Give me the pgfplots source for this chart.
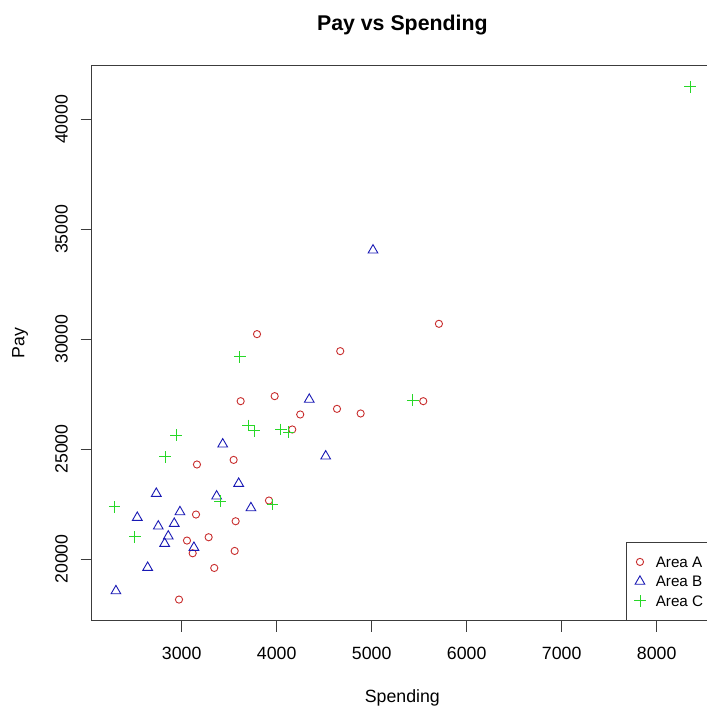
\documentclass[border=0pt]{standalone}
\usepackage{fontspec}
\setmainfont{Liberation Sans}
\usepackage{pgfplots}
\pgfplotsset{compat=1.18}
\definecolor{cA}{RGB}{200,45,45}
\definecolor{cB}{RGB}{25,25,180}
\definecolor{cC}{RGB}{40,215,40}
\definecolor{frame}{RGB}{60,60,60}
\begin{document}
\begin{tikzpicture}
\useasboundingbox (0,0) rectangle (707bp,707bp);
\clip (0,0) rectangle (707bp,707bp);
\begin{axis}[
  at={(91.7bp,86.5bp)}, anchor=south west,
  scale only axis, width=621.3bp, height=554.8bp,
  xmin=2053, xmax=8593, ymin=17200, ymax=42440,
  axis line style={frame, line width=0.9bp},
  xtick={3000,4000,5000,6000,7000,8000},
  ytick={20000,25000,30000,35000,40000},
  xtick pos=bottom, ytick pos=left,
  tick align=outside, major tick length=11bp,
  every tick/.style={frame, line width=0.9bp},
  minor tick num=0,
  scaled ticks=false,
  /pgf/number format/assume math mode=true,
  /pgf/number format/1000 sep={},
  xticklabel style={anchor=base, inner sep=0pt, font=\fontsize{17.8}{20}\selectfont},
  yticklabel style={rotate=90, anchor=base, inner sep=0pt, font=\fontsize{17.8}{20}\selectfont},
  xticklabel shift=28bp, yticklabel shift=13.2bp,
  title={Pay vs Spending},
  title style={at={(axis description cs:0.5,1.0631)}, anchor=base, yshift=-6pt, inner sep=0pt, font=\bfseries\fontsize{21.4}{24}\selectfont},
  xlabel={Spending},
  xlabel style={at={(axis description cs:0.5,-0.1487)}, anchor=base, inner sep=0pt, font=\fontsize{17.8}{20}\selectfont},
  ylabel={Pay},
  ylabel style={at={(axis description cs:-0.1083,0.5)}, anchor=base, inner sep=0pt, font=\fontsize{17.8}{20}\selectfont},
  legend style={at={(axis description cs:0.8595,0.1420)}, anchor=north west,
    draw=frame, line width=0.9bp, inner xsep=8bp, inner ysep=10bp,
    column sep=10bp, row sep=0pt, font=\fontsize{15.3}{18}\selectfont,
    nodes={inner sep=0pt, text height=15.25bp, text depth=4.25bp}},
  legend cell align=left,
  legend image code/.code={\draw[#1] plot coordinates {(0bp,0bp)};},
]
\addplot[only marks, mark=o, mark size=3.6bp, cA, line width=0.9bp] coordinates {
(3621,27178) (3979,27406) (4248,26572) (4635,26828) (4164,25890)
(3547,24506) (3161,24297) (3919,22658) (3151,22021) (3568,21716)
(3284,20988) (3056,20837) (3116,20259) (3558,20364) (3343,19590)
(2972,18152) (5708,30697) (4669,29454) (4884,26618) (5543,27178)
(3793,30228)
};
\addlegendentry{Area A}
\addplot[only marks, mark=triangle, mark size=5.6bp, cB, line width=0.9bp] coordinates {
(4343,27255) (3432,25221) (4516,24675) (3600,23432) (2733,22977)
(3368,22854) (3729,22321) (2533,21884) (2982,22139) (2754,21488)
(2922,21611) (2859,21033) (2821,20701) (3129,20519) (2642,19609)
(2308,18543) (5014,34046)
};
\addlegendentry{Area B}
\addplot[only marks, mark=+, mark size=5.8bp, cC, line width=0.9bp] coordinates {
(3698,26072) (3764,25826) (4045,25890) (4126,25767) (2940,25630)
(2827,24643) (3406,22626) (3958,22476) (2295,22367) (2508,21001)
(3611,29190) (5432,27224) (8351,41484)
};
\addlegendentry{Area C}
\end{axis}
\end{tikzpicture}
\end{document}
